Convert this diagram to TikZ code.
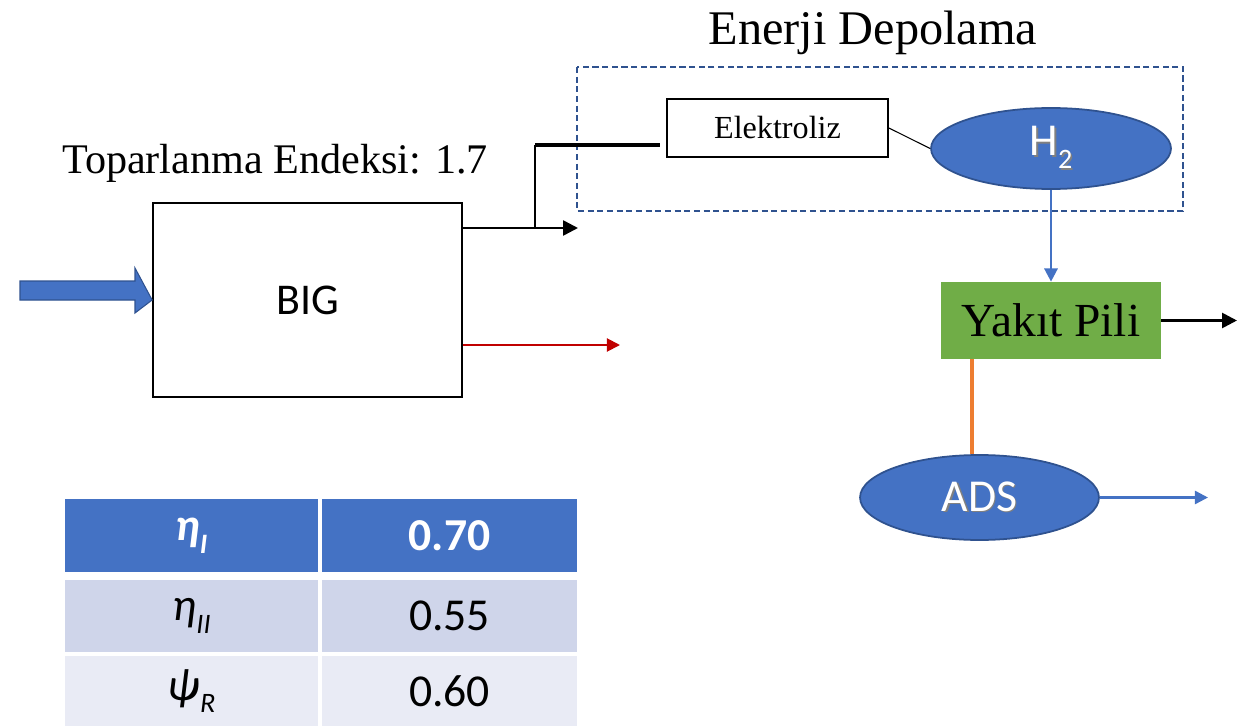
\documentclass[tikz,border=0pt]{standalone}
\usepackage{fontspec}
\setmainfont{Liberation Serif}
\newfontfamily\calfont{Carlito}
\usetikzlibrary{arrows.meta,shapes.geometric}
\definecolor{accblue}{HTML}{4472C4}
\definecolor{darkblue}{HTML}{2F528F}
\definecolor{fcgreen}{HTML}{70AD47}
\definecolor{orng}{HTML}{ED7D31}
\definecolor{redd}{HTML}{C00000}
\definecolor{rowA}{HTML}{CFD5EA}
\definecolor{rowB}{HTML}{E9EBF5}
\newcommand\shtext[1]{\leavevmode\rlap{\kern0.9pt\raisebox{-0.9pt}{\textcolor{black!50}{#1}}}#1}
\newcommand\subsc[1]{\raisebox{-0.28em}{\fontsize{16}{16}\selectfont #1}}
\begin{document}
\begin{tikzpicture}[x=0.02cm,y=-0.02cm,
  blockbox/.style={draw, line width=1pt, inner sep=0pt},
  cell/.style={inner sep=0pt, font=\calfont\fontsize{26}{30}\selectfont},
  tip/.style={-{Triangle[length=8.5pt,width=8.5pt]}},
  smalltip/.style={-{Triangle[length=7.5pt,width=7.5pt]}},
  bubble/.style={ellipse, fill=accblue, draw=darkblue, line width=1pt, inner sep=0pt, text=white, font=\calfont\fontsize{26}{30}\selectfont}
]
\useasboundingbox (0,0) rectangle (1237,726);

% titles
\node[anchor=base, font=\fontsize{27.5}{32}\selectfont] (title) at (873,45) {Enerji Depolama};
\node[anchor=base, font=\fontsize{24}{28}\selectfont] (topar) at (275,174) {Toparlanma Endeksi: 1.7};

% blocks
\node[blockbox, minimum width=6.18cm, minimum height=3.88cm, font=\calfont\fontsize{25}{30}\selectfont] (big) at (307.5,300) {BIG};
\node[blockbox, minimum width=4.42cm, minimum height=1.16cm, font=\fontsize{18.3}{22}\selectfont] (elek) at (777.5,128) {Elektroliz};
\node[bubble, minimum width=4.8cm, minimum height=1.62cm] (h2) at (1051,148.5) {\shtext{H\subsc{2}}};
\node[fill=fcgreen, inner sep=0pt, minimum width=4.4cm, minimum height=1.54cm, font=\fontsize{27}{31}\selectfont] (yakit) at (1051,320.5) {Yakıt Pili};
\node[bubble, minimum width=4.78cm, minimum height=1.7cm] (ads) at (979.5,497.5) {\shtext{ADS}};

% dashed storage frame
\draw[darkblue, line width=1.2pt, dash pattern=on 3.5pt off 2pt] (577,67) rectangle (1183,211);

% input arrow
\fill[accblue, draw=darkblue, line width=0.6pt] (20,281) -- (135,281) -- (135,268) -- (big.west) -- (135,313) -- (135,300) -- (20,300) -- cycle;

% connectors
\coordinate (o1) at (578,228);
\coordinate (br) at (535,228);
\coordinate (e1) at (660,145);
\coordinate (r1) at (620,345);
\coordinate (y1) at (1237,320.5);
\coordinate (oc) at (972,400);
\coordinate (a1) at (1208,497.5);

\draw[line width=1.5pt, tip] (big.east |- o1) -- (o1);
\draw[line width=1.2pt] (br) -- (br |- e1);
\draw[line width=2.2pt] (br |- e1) -- (e1);
\draw[line width=0.6pt] (elek.east) -- (h2.west);
\draw[redd, line width=1.1pt, smalltip] (big.east |- r1) -- (r1);
\draw[accblue, line width=1.4pt, smalltip] (h2.south) -- (yakit.north);
\draw[line width=1.5pt, tip] (yakit.east) -- (y1);
\draw[orng, line width=2.3pt] (yakit.south -| oc) -- (ads.north -| oc);
\draw[accblue, line width=1.4pt, smalltip] (ads.east) -- (a1);

% table
\node[cell, fill=accblue, minimum width=5.06cm, minimum height=1.46cm, text=white, font=\calfont\bfseries\itshape\fontsize{26}{30}\selectfont] (c11) at (191.5,535.5) {η\subsc{I}};
\node[cell, fill=accblue, minimum width=5.1cm, minimum height=1.46cm, text=white, font=\calfont\bfseries\fontsize{26}{30}\selectfont] (c12) at (449.5,535.5) {0.70};
\node[cell, fill=rowA, minimum width=5.06cm, minimum height=1.44cm] (c21) at (191.5,616) {\itshape η\subsc{II}};
\node[cell, fill=rowA, minimum width=5.1cm, minimum height=1.44cm] (c22) at (449.5,616) {0.55};
\node[cell, fill=rowB, minimum width=5.06cm, minimum height=1.4cm] (c31) at (191.5,691) {\itshape ψ\subsc{R}};
\node[cell, fill=rowB, minimum width=5.1cm, minimum height=1.4cm] (c32) at (449.5,691) {0.60};
\end{tikzpicture}
\end{document}
